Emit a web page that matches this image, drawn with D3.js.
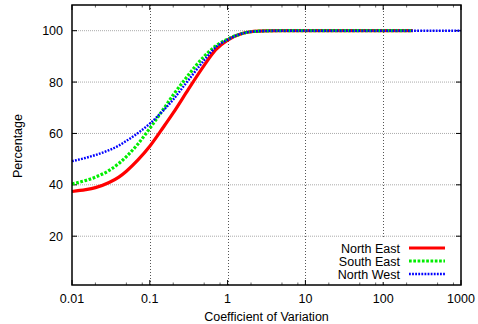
<!DOCTYPE html>
<html><head><meta charset="utf-8">
<script src="https://cdn.jsdelivr.net/npm/d3@7"></script>
<style>body{margin:0;background:#fff}svg{display:block;font-family:"Liberation Sans",Arial,sans-serif}</style>
</head><body><svg id="c" width="478" height="324"></svg>
<script>
const xTickValues = [0.01, 0.1, 1, 10, 100, 1000];
const xTickLabels = ["0.01", "0.1", "1", "10", "100", "1000"];
const yTickValues = [20, 40, 60, 80, 100];
const xs = [0.01, 0.015, 0.02, 0.03, 0.04, 0.05, 0.07, 0.1, 0.15, 0.2, 0.3, 0.5, 0.7, 1, 1.5, 2, 3, 5, 10, 20, 50, 100, 240];
const northEast = [37.4, 38.1, 38.9, 40.9, 43.0, 45.3, 49.6, 55.0, 62.5, 68.0, 76.3, 86.5, 92.5, 96.3, 98.8, 99.6, 99.9, 100, 100, 100, 100, 100, 100];
const southEast = [40.3, 41.7, 43.0, 45.6, 48.3, 51.0, 55.8, 62.0, 69.5, 75.0, 82.0, 90.0, 94.0, 96.7, 98.8, 99.6, 99.9, 100, 100, 100, 100, 100, 100];
const xsNW = [0.01, 0.015, 0.02, 0.03, 0.04, 0.05, 0.07, 0.1, 0.15, 0.2, 0.3, 0.5, 0.7, 1, 1.5, 2, 3, 5, 10, 20, 50, 100, 240, 500, 1000];
const northWest = [49.2, 50.5, 51.6, 53.5, 55.3, 57.1, 60.1, 63.8, 69.0, 73.2, 80.0, 88.5, 93.5, 96.5, 98.8, 99.6, 99.9, 100, 100, 100, 100, 100, 100, 100, 100];
const seriesNames = ["North East", "South East", "North West"];
const seriesColors = ["#ff0000", "#00ee00", "#0000ff"];

const L = 72, R = 461, T = 5, B = 285;
const svg = d3.select("#c");
const x = d3.scaleLog().domain([0.01, 1000]).range([L, R]);
const y = d3.scaleLinear().domain([1, 110]).range([B, T]);

// grid
const g = svg.append("g");
g.selectAll("line.hg").data(yTickValues).join("line")
  .attr("x1", L).attr("x2", R).attr("y1", d => y(d)).attr("y2", d => y(d))
  .attr("stroke", "#aaa").attr("stroke-width", 1).attr("stroke-dasharray", "1,1");
g.selectAll("line.vg").data(xTickValues.slice(1, -1)).join("line")
  .attr("x1", d => Math.round(x(d)) + 0.5).attr("x2", d => Math.round(x(d)) + 0.5).attr("y1", T).attr("y2", B)
  .attr("stroke", "#555").attr("stroke-width", 1).attr("stroke-dasharray", "1,2");

// ticks
const minor = [];
for (let e = -2; e < 3; e++) for (const m of [2, 5, 8]) minor.push(m * Math.pow(10, e));
const tk = svg.append("g").attr("stroke", "#000").attr("stroke-width", 1);
xTickValues.forEach(v => {
  const px = x(v);
  tk.append("line").attr("x1", px).attr("x2", px).attr("y1", B).attr("y2", B - 5);
  tk.append("line").attr("x1", px).attr("x2", px).attr("y1", T).attr("y2", T + 5);
});
minor.forEach(v => {
  const px = x(v);
  tk.append("line").attr("x1", px).attr("x2", px).attr("y1", B).attr("y2", B - 2.5).attr("stroke", "#666");
  tk.append("line").attr("x1", px).attr("x2", px).attr("y1", T).attr("y2", T + 2.5).attr("stroke", "#666");
});
yTickValues.forEach(v => {
  const py = y(v);
  tk.append("line").attr("x1", L).attr("x2", L + 5).attr("y1", py).attr("y2", py);
  tk.append("line").attr("x1", R).attr("x2", R - 5).attr("y1", py).attr("y2", py);
});

// lines
const line = d3.line().x(d => x(d[0])).y(d => y(d[1])).curve(d3.curveMonotoneX);
const dataNE = xs.map((v, i) => [v, northEast[i]]);
const dataSE = xs.map((v, i) => [v, southEast[i]]);
const dataNW = xsNW.map((v, i) => [v, northWest[i]]);
const styles = [
  {w: 3.2, dash: null},
  {w: 3.2, dash: "2.7,1.6"},
  {w: 2.4, dash: "1.8,1.3"}
];
[dataNE, dataSE, dataNW].forEach((d, i) => {
  svg.append("path").datum(d).attr("d", line).attr("fill", "none")
    .attr("stroke", seriesColors[i]).attr("stroke-width", styles[i].w)
    .attr("stroke-dasharray", styles[i].dash);
});

// legend
svg.append("rect").attr("x", 318).attr("y", 238).attr("width", 136).attr("height", 44).attr("fill", "#fff");
seriesNames.forEach((n, i) => {
  const ly = 248 + i * 13;
  svg.append("text").attr("x", 400).attr("y", ly + 4.5).attr("text-anchor", "end")
    .attr("font-size", 12.5).text(n);
  svg.append("line").attr("x1", 409).attr("x2", 445).attr("y1", ly).attr("y2", ly)
    .attr("stroke", seriesColors[i]).attr("stroke-width", styles[i].w).attr("stroke-dasharray", styles[i].dash);
});

// border
svg.append("rect").attr("x", L).attr("y", T).attr("width", R - L).attr("height", B - T)
  .attr("fill", "none").attr("stroke", "#000").attr("stroke-width", 1.5);

// tick labels
svg.append("g").selectAll("text").data(xTickValues).join("text")
  .attr("x", d => x(d)).attr("y", 303).attr("text-anchor", "middle").attr("font-size", 12.5)
  .text((d, i) => xTickLabels[i]);
svg.append("g").selectAll("text").data(yTickValues).join("text")
  .attr("x", 63).attr("y", d => y(d) + 4.5).attr("text-anchor", "end").attr("font-size", 12.5)
  .text(d => d);

// axis titles
svg.append("text").attr("x", (L + R) / 2).attr("y", 321).attr("text-anchor", "middle")
  .attr("font-size", 12.5).text("Coefficient of Variation");
svg.append("text").attr("transform", "translate(22,146) rotate(-90)").attr("text-anchor", "middle")
  .attr("font-size", 12.5).text("Percentage");
</script></body></html>
